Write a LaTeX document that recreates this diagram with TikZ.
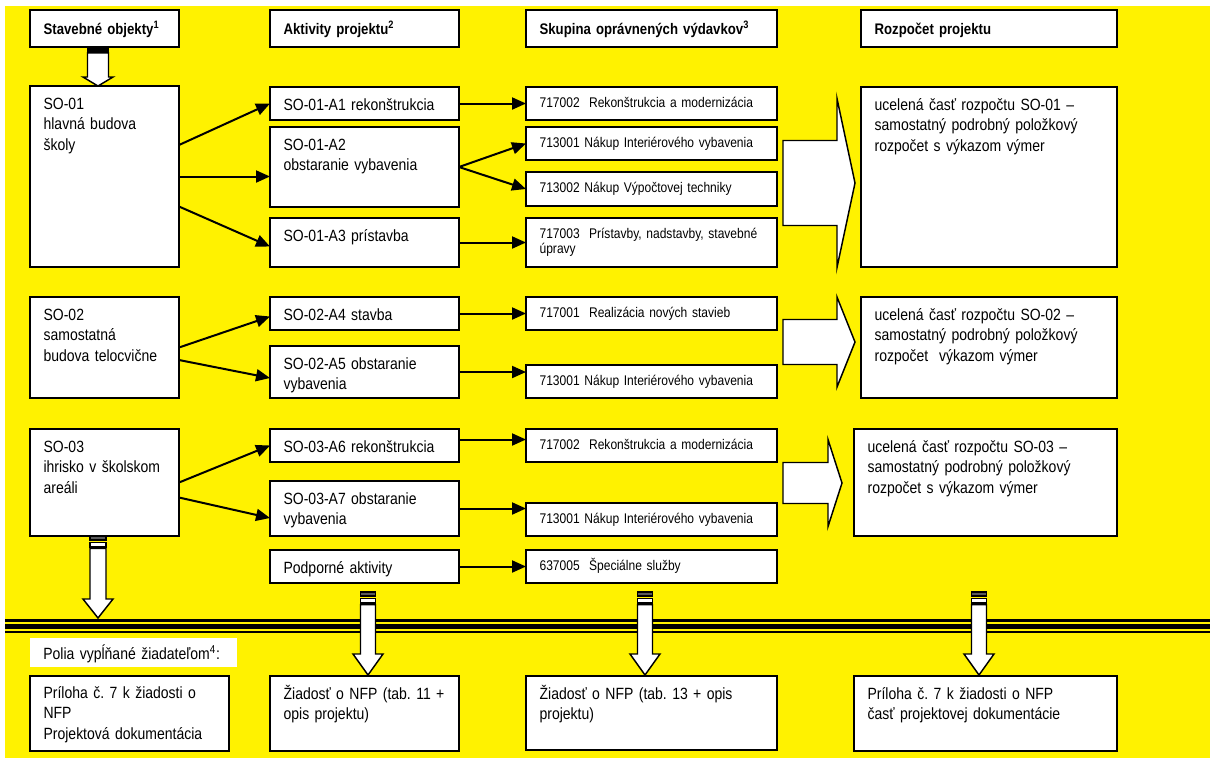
\documentclass[tikz,border=0pt]{standalone}
\usepackage{fontspec}
\setmainfont{Liberation Sans}[FakeStretch=0.86,WordSpace=0.86]
\usetikzlibrary{arrows.meta,fit,calc}
\frenchspacing

\definecolor{stripegray}{RGB}{90,90,90}

% striped block arrow pointing down: top, length, head length, shaft half width, head half width
\newcommand{\downblock}[5]{%
  \begin{scope}[shift={(#1)}]
    \draw[blockline,fill=stripegray] (-#4,0) rectangle (#4,#2/20);
    \draw[blockline,fill=white] (-#4,#2/13) rectangle (#4,#2/7.5);
    \draw[blockline,fill=white] (-#4,#2/6.6) -- (#4,#2/6.6) -- (#4,#2-#3) -- (#5,#2-#3)
      -- (0,#2) -- (-#5,#2-#3) -- (-#4,#2-#3) -- cycle;
  \end{scope}}
% block arrow pointing right: tip, length, head length, shaft half height, head half height
\newcommand{\rightblock}[5]{%
  \begin{scope}[shift={(#1)}]
    \draw[blockline,fill=white] (-#2,-#4) -- (-#3,-#4) -- (-#3,-#5) -- (0,0)
      -- (-#3,#5) -- (-#3,#4) -- (-#2,#4) -- cycle;
  \end{scope}}

\begin{document}
\frenchspacing
\begin{tikzpicture}[x=0.75pt,y=-0.75pt,
  >={Triangle[length=10.5pt,width=9pt]},
  box/.style={draw, fill=white, line width=1.2pt, inner sep=0pt, outer sep=0pt},
  main/.style={anchor=north west, inner xsep=10pt, inner ysep=0pt, text width=280pt,
    align=left, font=\fontsize{12.2}{15.5}\selectfont, text height=17.25pt},
  head/.style={main, font=\bfseries\fontsize{11.5}{14}\selectfont, text height=18pt},
  small/.style={main, font=\fontsize{10.5}{11.3}\selectfont, text height=15pt},
  conn/.style={->, line width=1.5pt},
  blockline/.style={line width=1.1pt, line join=miter}]
\useasboundingbox (0,0) rectangle (1210,758);
\fill[white] (0,0) rectangle (1210,758);
\fill[yellow] (5,6) rectangle (1210,758);

% column heads
\node[box, fit={(30,10) (179,47)}] (hso) {};
\node[head] at (hso.north west) {Stavebné objekty\textsuperscript{1}};
\node[box, fit={(270,10) (459,47)}] (hakt) {};
\node[head] at (hakt.north west) {Aktivity projektu\textsuperscript{2}};
\node[box, fit={(526,10) (777,47)}] (hsk) {};
\node[head] at (hsk.north west) {Skupina oprávnených výdavkov\textsuperscript{3}};
\node[box, fit={(861,10) (1117,47)}] (hroz) {};
\node[head] at (hroz.north west) {Rozpočet projektu};

\downblock{$(hso.south)+(-6.5,0)$}{39}{9}{10.5}{15}

% stavebne objekty
\node[box, fit={(30,86) (179,267)}] (so1) {};
\node[main] at (so1.north west) {SO-01\\hlavná budova\\školy};
\node[box, fit={(30,297) (179,398)}] (so2) {};
\node[main] at (so2.north west) {SO-02\\samostatná\\budova telocvične};
\node[box, fit={(30,429) (179,536)}] (so3) {};
\node[main] at (so3.north west) {SO-03\\ihrisko v školskom\\areáli};

% aktivity
\node[box, fit={(270,87) (459,120)}] (a1) {};
\node[main] at (a1.north west) {SO-01-A1 rekonštrukcia};
\node[box, fit={(270,127) (459,207)}] (a2) {};
\node[main] at (a2.north west) {SO-01-A2\\obstaranie vybavenia};
\node[box, fit={(270,218) (459,267)}] (a3) {};
\node[main] at (a3.north west) {SO-01-A3 prístavba};
\node[box, fit={(270,297) (459,330)}] (a4) {};
\node[main] at (a4.north west) {SO-02-A4 stavba};
\node[box, fit={(270,346) (459,398)}] (a5) {};
\node[main] at (a5.north west) {SO-02-A5 obstaranie\\vybavenia};
\node[box, fit={(270,429) (459,462)}] (a6) {};
\node[main] at (a6.north west) {SO-03-A6 rekonštrukcia};
\node[box, fit={(270,481) (459,536)}] (a7) {};
\node[main] at (a7.north west) {SO-03-A7 obstaranie\\vybavenia};
\node[box, fit={(270,550) (459,583)}] (podp) {};
\node[main] at (podp.north west) {Podporné aktivity};

% skupiny vydavkov
\node[box, fit={(526,87) (777,120)}] (s1) {};
\node[small] at (s1.north west) {717002\ \ Rekonštrukcia a modernizácia};
\node[box, fit={(526,127) (777,160)}] (s2) {};
\node[small] at (s2.north west) {713001 Nákup Interiérového vybavenia};
\node[box, fit={(526,172) (777,206)}] (s3) {};
\node[small] at (s3.north west) {713002 Nákup Výpočtovej techniky};
\node[box, fit={(526,218) (777,267)}] (s4) {};
\node[small] at (s4.north west) {717003\ \ Prístavby, nadstavby, stavebné\\úpravy};
\node[box, fit={(526,297) (777,330)}] (s5) {};
\node[small] at (s5.north west) {717001\ \ Realizácia nových stavieb};
\node[box, fit={(526,365) (777,398)}] (s6) {};
\node[small] at (s6.north west) {713001 Nákup Interiérového vybavenia};
\node[box, fit={(526,429) (777,462)}] (s7) {};
\node[small] at (s7.north west) {717002\ \ Rekonštrukcia a modernizácia};
\node[box, fit={(526,503) (777,536)}] (s8) {};
\node[small] at (s8.north west) {713001 Nákup Interiérového vybavenia};
\node[box, fit={(526,550) (777,583)}] (s9) {};
\node[small] at (s9.north west) {637005\ \ Špeciálne služby};

% rozpocet
\node[box, fit={(861,87) (1117,267)}] (r1) {};
\node[main] at (r1.north west) {ucelená časť rozpočtu SO-01 –\\samostatný podrobný položkový\\rozpočet s výkazom výmer};
\node[box, fit={(861,297) (1117,398)}] (r2) {};
\node[main] at (r2.north west) {ucelená časť rozpočtu SO-02 –\\samostatný podrobný položkový\\rozpočet\ \ výkazom výmer};
\node[box, fit={(854,429) (1117,536)}] (r3) {};
\node[main] at (r3.north west) {ucelená časť rozpočtu SO-03 –\\samostatný podrobný položkový\\rozpočet s výkazom výmer};

\rightblock{$(r1.west)+(-6,6)$}{72}{18}{42.5}{84.5}
\rightblock{$(r2.west)+(-6,-5.5)$}{72}{18}{22.5}{45}
\rightblock{$(r3.west)+(-12,0.5)$}{59}{14}{20.5}{43.5}

% objekty -> aktivity
\draw[conn] ($(so1.north east)+(0,59)$) -- (a1.west);
\draw[conn] (so1.east) -- (so1.east -| a2.west);
\draw[conn] ($(so1.east)+(0,30)$) -- ($(a3.west)+(0,4)$);
\draw[conn] (so2.east) -- ($(a4.west)+(0,3)$);
\draw[conn] ($(so2.east)+(0,12.5)$) -- ($(a5.west)+(0,6)$);
\draw[conn] (so3.east) -- (a6.west);
\draw[conn] ($(so3.east)+(0,15)$) -- ($(a7.west)+(0,9.5)$);

% aktivity -> vydavky
\draw[conn] (a1.east) -- (s1.west);
\draw[conn] (a2.east) -- (s2.west);
\draw[conn] (a2.east) -- (s3.west);
\draw[conn] (a3.east) -- (s4.west);
\draw[conn] (a4.east) -- (s5.west);
\draw[conn] (a5.east) -- (a5.east -| s6.west);
\draw[conn] ($(a6.east)+(0,-6)$) -- ($(s7.west)+(0,-6)$);
\draw[conn] (a7.east) -- (a7.east -| s8.west);
\draw[conn] (podp.east) -- (s9.west);

% triple line
\draw[line width=1.8pt] (5,620.5) -- (1210,620.5);
\draw[line width=3.5pt] (5,626.3) -- (1210,626.3);
\draw[line width=1.5pt] (5,632) -- (1210,632);

\downblock{$(so3.south)+(-6.5,0)$}{82}{19}{8}{15}
\downblock{$(podp.south)+(3.5,9)$}{83}{21}{7.5}{15}
\downblock{$(s9.south)+(-6.5,9)$}{83}{21}{7.5}{15}
\downblock{$(r3.south)+(-6.5,56)$}{83}{21}{7.5}{15}

% fields filled by the applicant
\node[fill=white, inner sep=0pt, fit={(30,638) (237,667)}] (polia) {};
\node[main, text height=15.75pt] at (polia.north west) {Polia vypĺňané žiadateľom\textsuperscript{4}:};

\node[box, fit={(30,676) (229,751)}] (d1) {};
\node[main, text height=16.5pt] at (d1.north west) {Príloha č. 7 k žiadosti o\\NFP\\Projektová dokumentácia};
\node[box, fit={(270,676) (459,751)}] (d2) {};
\node[main] at (d2.north west) {Žiadosť o NFP (tab. 11 +\\opis projektu)};
\node[box, fit={(526,676) (777,750)}] (d3) {};
\node[main] at (d3.north west) {Žiadosť o NFP (tab. 13 + opis\\projektu)};
\node[box, fit={(854,676) (1117,751)}] (d4) {};
\node[main] at (d4.north west) {Príloha č. 7 k žiadosti o NFP\\časť projektovej dokumentácie};
\end{tikzpicture}
\end{document}
